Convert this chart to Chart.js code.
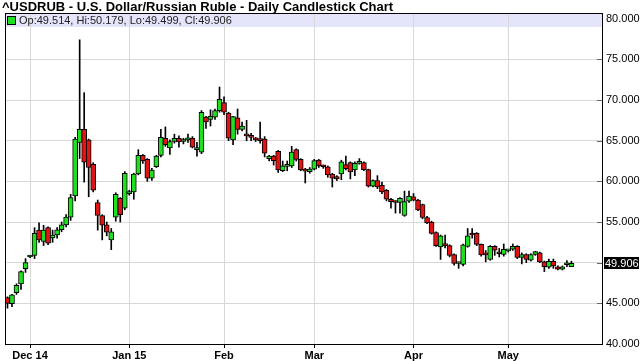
<!DOCTYPE html>
<html>
<head>
<meta charset="utf-8">
<script src="https://cdn.jsdelivr.net/npm/chart.js@4.4.0/dist/chart.umd.min.js"></script>
<style>
  html, body { margin: 0; padding: 0; background: #fff; }
</style>
</head>
<body>
<canvas id="candleChart" width="643" height="361"></canvas>
<script>
const chartTitle = '^USDRUB - U.S. Dollar/Russian Ruble - Daily Candlestick Chart';

// daily OHLC, one entry per trading day
const opens = [45.7, 44.96, 46.3, 47.4, 49.25, 50.7, 50.9, 54.0, 52.6, 54.3,
  53.05, 53.4, 54.05, 54.65, 55.6, 58.2, 64.8, 66.4, 65.1, 62.1,
  57.4, 55.8, 54.65, 52.8, 55.6, 57.9, 56.7, 58.5, 58.7, 60.9,
  63.2, 62.7, 60.4, 61.8, 63.2, 65.3, 64.1, 64.9, 65.3, 64.9,
  65.1, 65.3, 63.9, 63.6, 67.9, 67.6, 67.9, 68.7, 69.7, 68.4,
  65.1, 67.8, 66.4, 65.8, 65.6, 65.3, 65.2, 65.2, 62.8, 63.1,
  63.7, 61.3, 61.85, 61.9, 63.9, 62.7, 61.4, 61.2, 61.5, 62.6,
  61.9, 61.8, 60.9, 60.6, 60.9, 62.05, 62.3, 61.4, 62.2, 62.3,
  61.45, 59.4, 60.1, 59.5, 58.9, 57.8, 57.5, 57.4, 55.8, 57.55,
  58.1, 57.7, 57.15, 55.55, 55.0, 53.7, 51.95, 52.2, 52.1, 51.0,
  49.9, 49.8, 52.0, 53.6, 53.6, 52.25, 51.05, 50.4, 52.0, 51.2,
  51.0, 51.45, 51.65, 52.0, 50.65, 51.0, 50.3, 51.0, 51.2, 50.1,
  49.45, 50.15, 49.5, 49.2, 49.75, 49.514];
const highs = [45.8, 46.1, 47.4, 49.0, 50.5, 50.9, 54.3, 54.9, 54.6, 54.4,
  54.0, 54.3, 55.0, 55.9, 58.4, 65.4, 77.4, 70.9, 65.2, 62.3,
  57.7, 55.9, 55.0, 54.2, 58.6, 58.0, 61.2, 58.9, 61.0, 63.9,
  63.3, 62.8, 61.6, 63.2, 66.4, 66.7, 65.1, 65.8, 65.6, 65.3,
  65.8, 65.5, 64.8, 68.7, 68.0, 68.8, 68.9, 71.6, 70.4, 68.5,
  68.0, 68.9, 67.3, 67.5, 65.9, 65.4, 67.3, 65.5, 63.2, 63.2,
  63.8, 62.5, 62.5, 64.3, 64.0, 62.8, 61.6, 61.7, 62.7, 62.7,
  62.0, 61.9, 61.0, 60.7, 62.6, 63.1, 62.4, 62.4, 62.8, 62.4,
  61.5, 60.2, 60.7, 59.9, 59.0, 57.9, 57.6, 58.0, 58.8, 58.8,
  58.5, 57.8, 57.2, 55.7, 55.1, 53.8, 53.4, 53.4, 52.2, 51.1,
  50.0, 52.3, 54.2, 54.2, 53.7, 52.3, 51.5, 52.1, 52.1, 51.75,
  52.3, 51.6, 52.3, 52.1, 51.2, 51.1, 51.1, 51.4, 51.3, 50.2,
  50.45, 50.45, 49.6, 49.6, 50.25, 50.179];
const lows = [44.4, 44.6, 46.1, 46.7, 48.8, 50.6, 50.5, 52.5, 52.1, 52.2,
  52.5, 53.0, 53.8, 54.4, 55.2, 57.6, 62.8, 59.9, 58.1, 58.7,
  54.0, 52.8, 53.3, 51.6, 55.1, 55.0, 56.5, 58.3, 57.8, 60.8,
  62.2, 60.0, 60.1, 61.7, 63.0, 64.3, 63.3, 64.7, 64.2, 64.6,
  64.8, 64.1, 63.1, 63.4, 66.5, 66.8, 67.6, 68.5, 68.2, 65.0,
  64.5, 65.8, 66.2, 65.0, 65.0, 64.9, 64.7, 63.0, 62.5, 62.0,
  61.1, 61.2, 61.3, 61.7, 62.5, 61.3, 59.8, 61.0, 61.4, 61.7,
  61.6, 60.5, 59.3, 60.1, 60.2, 61.4, 60.3, 60.7, 62.1, 61.3,
  59.3, 59.3, 59.1, 58.5, 57.6, 56.7, 56.1, 56.1, 55.7, 57.4,
  57.6, 56.4, 55.4, 54.8, 53.5, 52.0, 50.4, 51.8, 50.7, 49.7,
  49.3, 49.6, 51.9, 53.0, 52.1, 50.8, 50.1, 50.3, 50.9, 50.7,
  50.8, 51.3, 51.5, 50.5, 49.85, 50.0, 50.2, 50.9, 50.0, 48.9,
  49.3, 49.3, 49.1, 49.1, 49.5, 49.499];
const closes = [45.0, 46.06, 47.2, 48.9, 50.0, 50.8, 53.6, 52.8, 54.0, 52.4,
  53.4, 54.05, 54.65, 55.6, 58.0, 65.2, 66.4, 62.35, 61.7, 58.9,
  55.8, 54.6, 53.75, 53.8, 58.4, 55.9, 61.0, 58.7, 60.9, 63.2,
  62.5, 60.4, 61.4, 63.1, 65.4, 64.5, 64.9, 65.3, 64.85, 65.1,
  65.3, 64.2, 64.1, 68.5, 67.3, 68.0, 68.7, 70.1, 68.5, 65.3,
  67.95, 66.4, 66.8, 65.6, 65.4, 65.1, 65.0, 63.45, 63.1, 62.55,
  61.4, 61.9, 61.95, 63.6, 62.7, 61.4, 61.25, 61.5, 62.55, 61.9,
  61.8, 60.8, 60.4, 60.3, 62.4, 61.55, 61.15, 62.2, 62.3, 61.45,
  59.4, 60.1, 59.3, 58.7, 57.8, 57.5, 57.4, 57.9, 57.5, 58.2,
  57.7, 56.5, 55.55, 54.9, 53.6, 52.1, 53.3, 52.1, 50.9, 49.9,
  49.95, 52.2, 53.3, 53.4, 52.25, 50.95, 50.95, 52.0, 51.55, 51.1,
  51.65, 51.5, 52.0, 50.65, 51.0, 50.4, 51.0, 51.35, 50.1, 49.5,
  50.15, 49.6, 49.2, 49.5, 49.8, 49.906];

// x-axis: trading-day index of the first session of each month
const monthIdx = [5, 27, 48, 68, 90, 111];
const monthLabels = ['Dec 14', 'Jan 15', 'Feb', 'Mar', 'Apr', 'May'];
const yTicks = [40, 45, 50, 55, 60, 65, 70, 75, 80];

const UP = '#1fe01f';
const DOWN = '#e01414';
const FONT = '"Liberation Sans", Arial, sans-serif';

const last = opens.length - 1;

const bodies = opens.map((o, i) => ({ x: i, y: [o, closes[i]] }));
const wicks = lows.map((l, i) => ({ x: i, y: [l, highs[i]] }));
const bodyColors = opens.map((o, i) => closes[i] >= o ? UP : DOWN);

// frame, legend band, title and last-price marker
const chartDecor = {
    id: 'chartDecor',
    beforeDraw(chart) {
        const { ctx, chartArea: a } = chart;
        ctx.save();
        ctx.fillStyle = '#fff';
        ctx.fillRect(0, 0, chart.width, chart.height);
        ctx.fillStyle = '#e4e4fa';
        ctx.fillRect(a.left, a.top, a.right - a.left, 14);
        ctx.restore();
    },
    afterDatasetsDraw(chart) {
        const { ctx, chartArea: a, scales } = chart;
        ctx.save();
        // short inner ticks on the price axis
        ctx.strokeStyle = '#666';
        ctx.lineWidth = 1;
        yTicks.forEach(v => {
            if (v === 40 || v === 80) return;
            const y = Math.round(scales.y.getPixelForValue(v)) + 0.5;
            ctx.beginPath();
            ctx.moveTo(a.right - 6, y);
            ctx.lineTo(a.right, y);
            ctx.stroke();
        });
        ctx.strokeStyle = '#000';
        ctx.strokeRect(Math.round(a.left) + 0.5, Math.round(a.top) + 0.5,
            Math.round(a.right - a.left) - 1, Math.round(a.bottom - a.top));
        ctx.restore();
    },
    afterDraw(chart) {
        const { ctx, chartArea: a, scales } = chart;
        ctx.save();
        ctx.textBaseline = 'middle';
        ctx.fillStyle = '#000';
        ctx.font = 'bold 13px ' + FONT;
        ctx.fillText(chartTitle, 2, 7);

        // legend row
        ctx.fillStyle = UP;
        ctx.fillRect(a.left + 2.5, a.top + 3.5, 8, 8);
        ctx.strokeStyle = '#000';
        ctx.strokeRect(a.left + 2.5, a.top + 3.5, 8, 8);
        ctx.fillStyle = '#222';
        ctx.font = '11px ' + FONT;
        const legendText = 'Op:' + opens[last].toFixed(3) + ', Hi:' + highs[last].toFixed(3) +
            ', Lo:' + lows[last].toFixed(3) + ', Cl:' + closes[last].toFixed(3);
        ctx.fillText(legendText, a.left + 14, a.top + 8);

        // last close on the axis
        const y = Math.round(scales.y.getPixelForValue(closes[last]));
        ctx.fillStyle = '#000';
        ctx.fillRect(a.right + 1, y - 6, 35, 12);
        ctx.fillStyle = '#fff';
        ctx.fillText(closes[last].toFixed(3), a.right + 2, y + 0.5);
        ctx.restore();
    }
};

const ctx = document.getElementById('candleChart').getContext('2d');
const candleChart = new Chart(ctx, {
    type: 'bar',
    data: {
        datasets: [{
            label: 'Body',
            data: bodies,
            backgroundColor: bodyColors,
            borderColor: '#000',
            borderWidth: 1,
            borderSkipped: false,
            barThickness: 5,
            minBarLength: 2,
            grouped: false
        }, {
            label: 'Wick',
            data: wicks,
            backgroundColor: '#000',
            borderWidth: 0,
            barThickness: 1,
            grouped: false
        }]
    },
    options: {
        responsive: false,
        animation: false,
        devicePixelRatio: 1,
        layout: { padding: { top: 13, left: 5, right: 0, bottom: 0 } },
        plugins: {
            legend: { display: false },
            title: { display: false },
            tooltip: { enabled: false }
        },
        scales: {
            x: {
                type: 'linear',
                min: -0.55,
                max: 132,
                offset: false,
                afterBuildTicks: scale => {
                    scale.ticks = monthIdx.map(v => ({ value: v }));
                },
                afterFit: scale => { scale.height = 17; },
                grid: {
                    offset: false,
                    color: '#d8d8d8',
                    drawTicks: true,
                    tickLength: 4,
                    tickColor: '#000'
                },
                border: { display: false },
                ticks: {
                    autoSkip: false,
                    maxRotation: 0,
                    padding: 1,
                    color: '#000',
                    font: { family: FONT, size: 11, weight: 'bold' },
                    callback: v => monthLabels[monthIdx.indexOf(v)] || ''
                }
            },
            y: {
                position: 'right',
                min: 40,
                max: 80.7,
                afterBuildTicks: scale => {
                    scale.ticks = yTicks.map(v => ({ value: v }));
                },
                afterFit: scale => { scale.width = 40; },
                grid: {
                    color: c => (c.tick && c.tick.value === 80) ? 'rgba(0,0,0,0)' : '#d8d8d8',
                    drawTicks: false
                },
                border: { display: false },
                ticks: {
                    padding: 3,
                    color: '#000',
                    font: { family: FONT, size: 11 },
                    callback: v => v === 50 ? '' : v.toFixed(3)
                }
            }
        }
    },
    plugins: [chartDecor]
});
</script>
</body>
</html>
